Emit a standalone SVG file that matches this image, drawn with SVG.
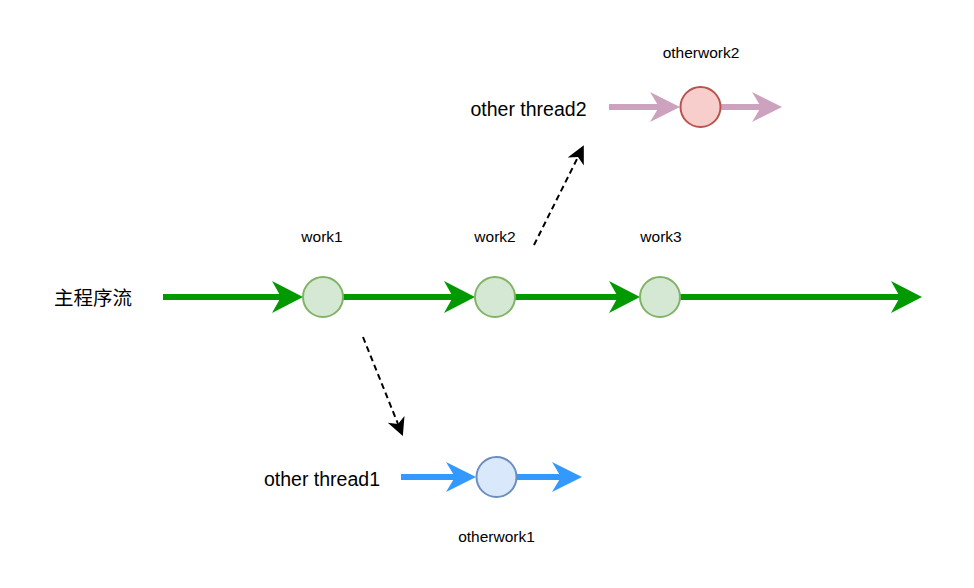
<svg xmlns="http://www.w3.org/2000/svg" width="974" height="588" viewBox="0 0 974 588">
<style>
text{font-family:"Liberation Sans",Arial,sans-serif;fill:#000;text-anchor:middle}
.big{font-size:19.5px}
.small{font-size:15.5px}
.cjk{font-family:"Liberation Sans","Noto Sans CJK SC",sans-serif;font-size:19.5px}
.g{stroke:#009900;stroke-width:6;fill:none}
.p{stroke:#CDA2BE;stroke-width:6;fill:none}
.b{stroke:#3399FF;stroke-width:6;fill:none}
.d{stroke:#000;stroke-width:2;stroke-dasharray:6 4;fill:none}
</style>
<defs>
<marker id="ag" markerUnits="userSpaceOnUse" orient="auto" markerWidth="40" markerHeight="40" refX="12" refY="20" viewBox="0 0 40 40" overflow="visible"><path d="M12,20 L3,4 L34,20 L3,36 Z" fill="#009900"/></marker>
<marker id="ap" markerUnits="userSpaceOnUse" orient="auto" markerWidth="40" markerHeight="40" refX="12" refY="20" viewBox="0 0 40 40" overflow="visible"><path d="M12,20 L3,5 L33,20 L3,35 Z" fill="#CDA2BE"/></marker>
<marker id="ab" markerUnits="userSpaceOnUse" orient="auto" markerWidth="40" markerHeight="40" refX="12" refY="20" viewBox="0 0 40 40" overflow="visible"><path d="M12,20 L3,5 L33,20 L3,35 Z" fill="#3399FF"/></marker>
<marker id="ad" markerUnits="userSpaceOnUse" orient="auto" markerWidth="24" markerHeight="24" refX="6" refY="12" viewBox="0 0 24 24" overflow="visible"><path d="M6,12 L1,3 L19,12 L1,21 Z" fill="#000"/></marker>
</defs>
<g id="connectors">
<line class="g" x1="163" y1="297" x2="281" y2="297" marker-end="url(#ag)"/>
<line class="g" x1="343" y1="297" x2="453" y2="297" marker-end="url(#ag)"/>
<line class="g" x1="515" y1="297" x2="618" y2="297" marker-end="url(#ag)"/>
<line class="g" x1="680" y1="297" x2="900" y2="297" marker-end="url(#ag)"/>
<line class="p" x1="609" y1="107" x2="659" y2="107" marker-end="url(#ap)"/>
<line class="p" x1="720" y1="107" x2="761" y2="107" marker-end="url(#ap)"/>
<line class="b" x1="401" y1="477" x2="455" y2="477" marker-end="url(#ab)"/>
<line class="b" x1="516" y1="477" x2="561" y2="477" marker-end="url(#ab)"/>
<line class="d" x1="363" y1="337" x2="398" y2="424" marker-end="url(#ad)"/>
<line class="d" x1="534" y1="245" x2="578" y2="157" marker-end="url(#ad)"/>
</g>
<g id="main-label"><text class="cjk" x="93" y="298" dominant-baseline="central">主程序流</text></g>
<g id="work1"><circle cx="323" cy="297" r="20" fill="#d5e8d4" stroke="#82b366" stroke-width="2"/><text class="small" x="322" y="242">work1</text></g>
<g id="work2"><circle cx="495" cy="297" r="20" fill="#d5e8d4" stroke="#82b366" stroke-width="2"/><text class="small" x="495" y="242">work2</text></g>
<g id="work3"><circle cx="660" cy="297" r="20" fill="#d5e8d4" stroke="#82b366" stroke-width="2"/><text class="small" x="661" y="242">work3</text></g>
<g id="thread2-label"><text class="big" x="528.5" y="116">other thread2</text></g>
<g id="otherwork2"><circle cx="700.5" cy="107" r="20" fill="#f8cecc" stroke="#b85450" stroke-width="2"/><text class="small" x="701" y="58">otherwork2</text></g>
<g id="thread1-label"><text class="big" x="322" y="486">other thread1</text></g>
<g id="otherwork1"><circle cx="496.5" cy="477" r="20" fill="#dae8fc" stroke="#6c8ebf" stroke-width="2"/><text class="small" x="496.5" y="542">otherwork1</text></g>
</svg>
